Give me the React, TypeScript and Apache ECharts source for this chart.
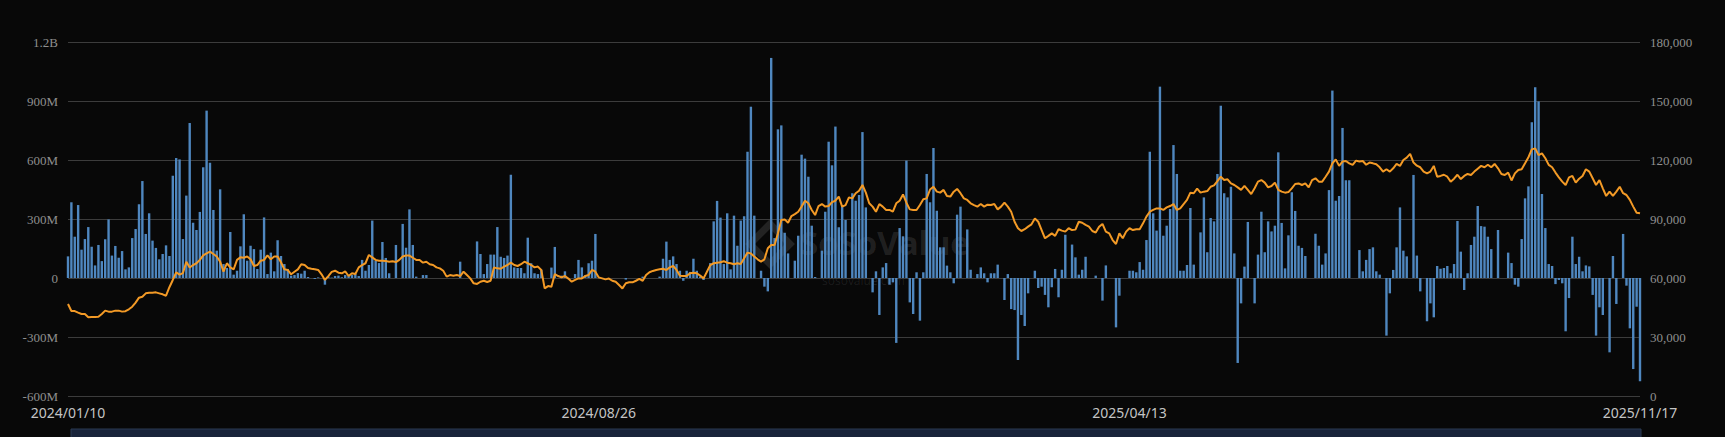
import React, { useEffect, useRef } from "react";
import * as echarts from "echarts";

// Trading-day calendar (dates shown are one day before the US session date)
const START_DAY = "2024-01-11";
const END_DAY = "2025-11-18";
const HOLIDAYS = [
  "2024-01-15", "2024-02-19", "2024-03-29", "2024-05-27", "2024-06-19", "2024-07-04",
  "2024-09-02", "2024-11-28", "2024-12-25", "2025-01-01", "2025-01-09", "2025-01-20",
  "2025-02-17", "2025-04-18", "2025-05-26", "2025-06-19", "2025-07-04", "2025-09-01",
];
const TICK_LABELS = ["2024/01/10", "2024/08/26", "2025/04/13", "2025/11/17"];

// Daily net inflow, millions USD
const flowsA = [
  110, 385, 210, 371, 144, 198, 259, 159, 64, 168, 86, 197, 298, 114, 163, 103, 137, 44, 54, 203, 249, 375, 493, 224, 329, 190, 153, 95, 122, 166, 112, 520, 610, 603, 198, 419, 788, 281, 244, 336, 563,
  851, 586, 346, 139, 451, 71, 51, 234, 17, 37, 161, 324, 88, 164, 147, 46, 144, 308, 20, 129, 34, 192, 112, 71, 46, 12, 15, 25, 22, 37,
  5, 0, -5, 3, 0, -34, 8, 2, 10, 12, 4, 15, 10,
  15, 20, 10, 92, 37, 66, 292, 88, 76, 183, 102, 24, 0, 168, 0, 275, 154, 349, 168, 7, 0, 15, 15,
  0, 0, 0, 0, 0, 0, 0, 0, 0, 83, 0, 0, 0, 0, 186, 122, 20, 71, 119, 119,
];
const flowsB = [
  259, 108, 102, 114, 525, 54, 51, 51, 24, 205, 75, 24, 20, 42, 0, 0, 53, 158, 0, 12, 34, 0, 0, 20, 92, 54, 14, 75, 88, 224,
  0, 0, 0, 0, 0, 0, 0, 0, -8, 0, 0, 0, 0,
  7, 0, 0, 0, 0, 7, 98, 185, 92, 110, 71, 37, -14, 37, 31, 98, 37, 7, -10, 0, 76, 288, 392, 307, 71, 329, 44, 317, 164, 292, 314, 642, 871, 317, 0, 37, -44, -68, 1119, 203, 756, 776, 230,
  125, 0, 88, 215, 627, 607, 515, 266, 5, 0, 139, 337, 693, 573, 770, 258, 368, 295, 0, 431, 393, 422, 742, 359, 0, -73, 34, -188, 54, 76, -34, -22, -330, 254, 212, 597, -124, -183, 29, -217, 29, 529, 385,
];
const flowsC = [
  661, 342, 156, 156, 63, 29, -27, 322, 363, 0, 247, 42, 0, 20, 54, 24, -22, 24, 24, 68, 0, -112, 20, -158, -163, -417, -188, -244, -78, 0, 37, -51, -44, -86, -149, -47, 46, -98, 42, 220, 0, 170, 105,
  17, 42, 108, 0, 0, 12, 0, -115, 64, 0, 0, -251, -90, 0, 0, 37, 37, 29, 81, 42, 193, 642, 329, 241, 973, 215, 266, 351, 676, 529, 37, 37, 66, 356, 68, 0, 232, 410, 131, 305, 288, 529, 876,
  431, 410, 464, 125, -432, -129, 58, 285, 0, -129, 119, 337, 131, 288, 237, 266, 639, 280, 49, 217, 436, 341, 164, 153, 112, 0, 0, 225, 164, 68, 125, 447, 953, 393, 417, 763, 497, 497, 0, 0, 142, 34, 92,
];
const flowsD = [
  147, 156, 34, 17, 0, -293, -78, 41, 156, 359, 139, 110, 0, 524, 114, -68, 0, -220, -129, -200, 61, 47, 51, 61, 24, 71, 290, 134, -61, 24, 168, 210, 366, 264, 261, 210, 147, 0, 244, 0, 0, 129, 76,
  -34, -44, 198, 405, 466, 792, 970, 898, 427, 254, 71, 61, -31, -10, -27, -271, -102, 210, 71, 108, 34, 64, 59, -86, -293, -149, -188, 0, -378, 112, -132, 0, 224, -39, -256, -463, -146, -525,
];

// BTC price, thousands USD
const priceA = [
  46.8, 43.2, 43.2, 42.4, 41.7, 41.7, 40.0, 40.2, 40.2, 40.3, 41.7, 43.4, 42.9, 42.9, 43.4, 43.4, 42.9, 43.1, 44.1, 45.4, 47.5, 50.0, 50.5, 52.2, 52.5, 52.5, 52.7, 52.2, 51.7, 51.0, 55.3, 59.0, 62.9, 61.7, 62.5, 68.3, 65.3, 66.6, 67.5, 69.2, 71.5,
  72.5, 73.4, 72.2, 70.9, 68.3, 63.2, 67.5, 65.4, 64.4, 69.2, 70.5, 70.3, 70.9, 69.5, 66.1, 66.6, 68.8, 69.2, 71.5, 69.5, 70.9, 70.9, 68.0, 64.4, 64.1, 61.9, 63.2, 64.4, 67.0, 66.6, 65.1, 64.7, 64.4, 64.1, 61.9, 59.0, 61.0, 63.1, 63.7, 62.7, 62.4, 63.4, 61.0,
  62.4, 62.0, 65.4, 66.6, 67.5, 71.7, 70.5, 69.2, 68.8, 68.8, 68.6, 68.3, 68.5, 68.1, 69.2, 70.9, 71.4, 71.4, 70.3, 69.2, 69.2, 67.8, 68.3, 67.0, 66.6, 65.4, 64.9, 63.7, 60.7, 61.5, 61.2, 61.5, 61.0, 63.2, 61.5, 59.8, 57.3, 57.0, 58.1, 58.6, 58.0, 58.6, 65.4,
];
const priceB = [
  64.9, 64.7, 65.8, 66.6, 67.8, 66.6, 66.1, 67.0, 68.3, 67.5, 66.6, 65.4, 65.8, 64.1, 54.7, 55.9, 55.6, 62.0, 61.0, 60.3, 61.0, 59.7, 58.1, 59.0, 59.8, 59.8, 61.0, 61.5, 64.1, 63.2, 60.3, 59.8, 59.3, 59.7, 58.6, 58.1, 56.4, 54.7, 57.3, 57.8, 57.8, 58.6, 59.5,
  58.6, 61.5, 62.9, 63.6, 64.1, 64.4, 64.7, 64.1, 65.4, 66.1, 64.1, 61.2, 61.0, 61.0, 62.4, 62.7, 62.4, 61.2, 59.8, 63.2, 66.6, 67.5, 67.8, 68.0, 68.5, 67.8, 67.5, 67.0, 67.5, 67.1, 70.0, 72.9, 72.5, 70.9, 69.5, 68.3, 69.5, 75.1, 76.8, 76.8, 82.7, 89.5, 89.8,
  88.1, 91.5, 92.5, 93.7, 96.3, 99.3, 98.0, 94.6, 92.0, 96.6, 97.6, 96.3, 96.6, 98.6, 99.3, 101.4, 96.3, 97.1, 101.0, 100.5, 103.1, 104.4, 107.3, 103.4, 98.0, 96.3, 93.7, 97.6, 96.3, 94.6, 94.6, 93.7, 98.0, 99.3, 102.5, 98.3, 94.9, 94.6, 94.6, 97.1, 100.0, 100.5, 105.0,
];
const priceC = [
  106.4, 103.9, 103.4, 104.8, 101.7, 101.4, 103.9, 105.3, 103.1, 100.5, 99.7, 98.0, 97.1, 96.3, 97.6, 96.3, 97.3, 97.1, 97.6, 94.9, 96.3, 98.3, 96.3, 93.7, 88.6, 85.3, 83.9, 84.8, 86.1, 87.3, 90.3, 88.6, 84.4, 80.2, 81.4, 82.7, 81.4, 84.8, 84.1, 83.6, 85.3, 84.4, 84.6,
  88.6, 88.1, 87.0, 86.1, 83.9, 83.1, 86.1, 87.5, 83.6, 82.7, 79.3, 77.3, 82.7, 80.2, 83.6, 85.3, 84.4, 84.8, 84.8, 87.8, 91.2, 93.7, 94.6, 95.4, 95.4, 94.6, 95.9, 96.6, 97.6, 94.6, 95.4, 97.6, 99.7, 103.4, 103.1, 105.4, 103.4, 103.9, 104.2, 106.4, 107.1, 109.3, 111.5,
  109.8, 110.2, 108.1, 107.3, 106.1, 104.8, 106.8, 104.8, 102.7, 105.6, 109.0, 109.8, 108.5, 106.1, 106.8, 108.5, 104.8, 103.9, 103.4, 103.7, 105.6, 107.8, 108.1, 107.3, 108.1, 106.1, 109.8, 110.7, 109.0, 109.0, 111.5, 114.1, 118.3, 120.3, 117.0, 119.2, 119.5, 118.3, 117.5, 119.7, 119.2, 119.5, 117.6,
];
const priceD = [
  118.7, 118.3, 117.8, 116.3, 114.1, 115.3, 114.1, 115.8, 118.0, 117.0, 120.0, 121.2, 123.1, 118.7, 117.1, 116.3, 114.1, 113.2, 114.1, 117.0, 111.5, 111.9, 112.5, 111.5, 109.0, 110.5, 112.5, 110.3, 111.9, 112.9, 112.4, 114.1, 115.6, 117.0, 116.3, 117.6, 116.3, 118.0, 115.8, 112.9, 112.4, 113.6, 109.6,
  113.2, 114.9, 115.3, 118.3, 121.4, 125.4, 125.9, 122.5, 123.4, 120.9, 117.5, 116.3, 113.6, 111.2, 109.0, 107.3, 111.2, 111.9, 108.5, 110.5, 111.9, 115.3, 114.1, 110.7, 107.3, 109.8, 105.6, 101.7, 103.9, 101.7, 103.9, 106.4, 103.1, 102.2, 99.7, 96.3, 93.2, 92.9,
];

function buildDates(): string[] {
  const out: string[] = [];
  const day = 86400000;
  const s = Date.parse(START_DAY + "T00:00:00Z");
  const e = Date.parse(END_DAY + "T00:00:00Z");
  for (let t = s; t <= e; t += day) {
    const d = new Date(t);
    const w = d.getUTCDay();
    if (w === 0 || w === 6) continue;
    if (HOLIDAYS.includes(d.toISOString().slice(0, 10))) continue;
    const p = new Date(t - day);
    const y = p.getUTCFullYear();
    const m = String(p.getUTCMonth() + 1).padStart(2, "0");
    const dd = String(p.getUTCDate()).padStart(2, "0");
    out.push(`${y}/${m}/${dd}`);
  }
  return out;
}

export default function App() {
  const ref = useRef<HTMLDivElement>(null);
  useEffect(() => {
    if (!ref.current) return;
    const chart = echarts.init(ref.current, undefined, { renderer: "svg" });
    const dates = buildDates();
    const flows = [...flowsA, ...flowsB, ...flowsC, ...flowsD];
    const prices = [...priceA, ...priceB, ...priceC, ...priceD].map((v) => Math.round(v * 1000));
    const yLabel = { color: "#8f8f8f", fontFamily: "'Times New Roman', 'Liberation Serif', serif", fontSize: 13 };
    chart.setOption({
      animation: false,
      backgroundColor: "#080808",
      grid: { left: 68, right: 85, top: 42, bottom: 41, containLabel: false },
      xAxis: {
        type: "category",
        data: dates,
        boundaryGap: false,
        axisLine: { show: false },
        axisTick: { show: false },
        splitLine: { show: false },
        axisLabel: {
          color: "#c4c4c4",
          fontFamily: "Noto Sans",
          fontSize: 14,
          margin: 9,
          interval: (_i: number, v: string) => TICK_LABELS.includes(v),
          hideOverlap: false,
        },
      },
      yAxis: [
        {
          type: "value",
          min: -600,
          max: 1200,
          interval: 300,
          axisLine: { show: false },
          axisTick: { show: false },
          splitLine: { show: true, lineStyle: { color: "#3c3c3c", width: 1 } },
          axisLabel: {
            ...yLabel,
            margin: 10,
            formatter: (v: number) => (v === 0 ? "0" : Math.abs(v) >= 1000 ? v / 1000 + "B" : v + "M"),
          },
        },
        {
          type: "value",
          min: 0,
          max: 180000,
          interval: 30000,
          axisLine: { show: false },
          axisTick: { show: false },
          splitLine: { show: false },
          axisLabel: {
            ...yLabel,
            margin: 10,
            formatter: (v: number) => v.toLocaleString("en-US"),
          },
        },
      ],
      graphic: [
        {
          type: "text",
          left: 800,
          top: 226,
          z: 0,
          style: { text: "SoSoValue", fontSize: 33, lineHeight: 33, fontWeight: "bold", fontFamily: "Open Sans", fill: "rgba(255,255,255,0.11)" },
        },
        {
          type: "text",
          left: 822,
          top: 274,
          z: 0,
          style: { text: "sosovalue.com", fontSize: 12, lineHeight: 12, fontFamily: "Open Sans", fill: "rgba(255,255,255,0.09)" },
        },
        {
          type: "polygon",
          z: 0,
          shape: { points: [[770, 224], [790, 244], [770, 264], [750, 244]] },
          style: { fill: "none", stroke: "rgba(255,255,255,0.11)", lineWidth: 7 },
        },
        {
          type: "rect",
          shape: { x: 71, y: 429, width: 1570, height: 20 },
          style: { fill: "#18233a", stroke: "#2a3a52", lineWidth: 1 },
        },
      ],
      series: [
        {
          type: "bar",
          yAxisIndex: 0,
          data: flows,
          barWidth: 2.4,
          itemStyle: { color: "#4f87bf" },
          z: 2,
        },
        {
          type: "line",
          yAxisIndex: 1,
          data: prices,
          showSymbol: false,
          symbol: "none",
          lineStyle: { color: "#f39a26", width: 2 },
          z: 3,
        },
      ],
    });
    return () => chart.dispose();
  }, []);
  return <div ref={ref} style={{ position: "fixed", left: 0, top: 0, width: 1725, height: 437 }} />;
}
